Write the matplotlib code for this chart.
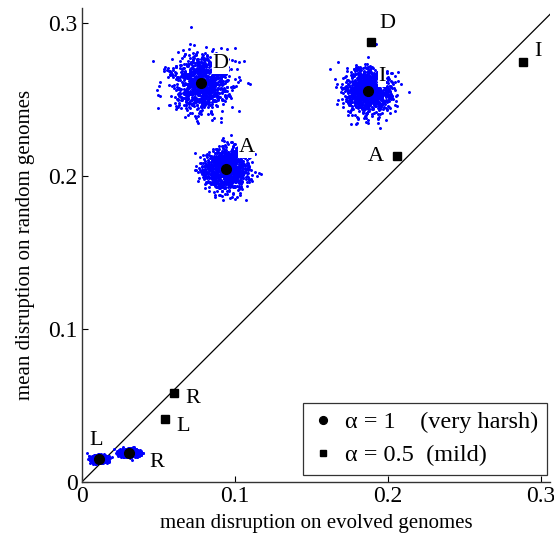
import numpy as np
import matplotlib
matplotlib.use("Agg")
import matplotlib.pyplot as plt

plt.rcParams['font.family'] = ['Liberation Serif', 'DejaVu Serif']

# harsh (alpha = 1): mean values with sampled clouds around them
harsh_names = ["D", "A", "I", "L", "R"]
harsh_x = [0.078, 0.094, 0.187, 0.011, 0.031]
harsh_y = [0.261, 0.205, 0.256, 0.015, 0.019]
harsh_sd_x = [0.0095, 0.0070, 0.0075, 0.0025, 0.0030]
harsh_sd_y = [0.0095, 0.0070, 0.0075, 0.0012, 0.0012]

# mild (alpha = 0.5)
mild_names = ["D", "I", "A", "R", "L"]
mild_x = [0.189, 0.288, 0.206, 0.060, 0.054]
mild_y = [0.288, 0.275, 0.213, 0.058, 0.041]

n_samples = 1000
rng = np.random.default_rng(3)

fig = plt.figure(figsize=(5.54, 5.42), dpi=100)
ax = fig.add_axes([0.148, 0.111, 0.845, 0.874])

# clouds of samples
for cx, cy, sx, sy in zip(harsh_x, harsh_y, harsh_sd_x, harsh_sd_y):
    px = rng.normal(cx, sx, n_samples)
    py = rng.normal(cy, sy, n_samples)
    ax.plot(px, py, '.', color='#0000ff', markersize=2.3, zorder=2)

# diagonal
ax.plot([0, 0.31], [0, 0.31], color='black', lw=0.9, zorder=1)

ax.plot(harsh_x, harsh_y, 'o', color='black', markersize=7, zorder=4,
        label='\u03b1 = 1    (very harsh)')
ax.plot(mild_x, mild_y, 's', color='black', markersize=5.5, zorder=4,
        label='\u03b1 = 0.5  (mild)')

# labels for the harsh means (white boxes over the clouds)
harsh_off = {"D": (14, 14), "A": (15, 15), "I": (10, 10), "L": (-2, 13), "R": (20, -7)}
for name, x, y in zip(harsh_names, harsh_x, harsh_y):
    dx, dy = harsh_off[name]
    bbox = dict(facecolor='white', edgecolor='none', pad=0.5) if name in "DAI" else None
    ax.annotate(name, (x, y), xytext=(dx, dy), textcoords='offset points',
                ha='center', va='center', fontsize=16, zorder=5, bbox=bbox)

mild_off = {"D": (12, 13), "I": (11, 7), "A": (-15, 0), "R": (14, -4), "L": (13, -5)}
for name, x, y in zip(mild_names, mild_x, mild_y):
    dx, dy = mild_off[name]
    ax.annotate(name, (x, y), xytext=(dx, dy), textcoords='offset points',
                ha='center', va='center', fontsize=16, zorder=5)

ax.set_xlim(0, 0.306)
ax.set_ylim(0, 0.31)
ax.set_xticks([0, 0.1, 0.2, 0.3])
ax.set_yticks([0, 0.1, 0.2, 0.3])
ax.set_xticklabels(['0', '0.1', '0.2', '0.3'])
ax.set_yticklabels(['0', '0.1', '0.2', '0.3'])
ax.tick_params(direction='in', length=4, width=0.8, labelsize=17, pad=3)
ax.spines['top'].set_visible(False)
ax.spines['right'].set_visible(False)
for s in ['left', 'bottom']:
    ax.spines[s].set_linewidth(1.0)
    ax.spines[s].set_color('#333333')

ax.set_xlabel('mean disruption on evolved genomes', fontsize=15, labelpad=5)
ax.set_ylabel('mean disruption on random genomes', fontsize=15, labelpad=10)

leg = ax.legend(loc='lower right', fontsize=17.5, frameon=True, fancybox=False,
                edgecolor='black', handlelength=1.0, handletextpad=0.4,
                borderpad=0.35, labelspacing=0.45, markerscale=0.8,
                borderaxespad=0, bbox_to_anchor=(0.993, 0.015))
leg.get_frame().set_linewidth(0.9)

fig.savefig('out.png', dpi=100)
